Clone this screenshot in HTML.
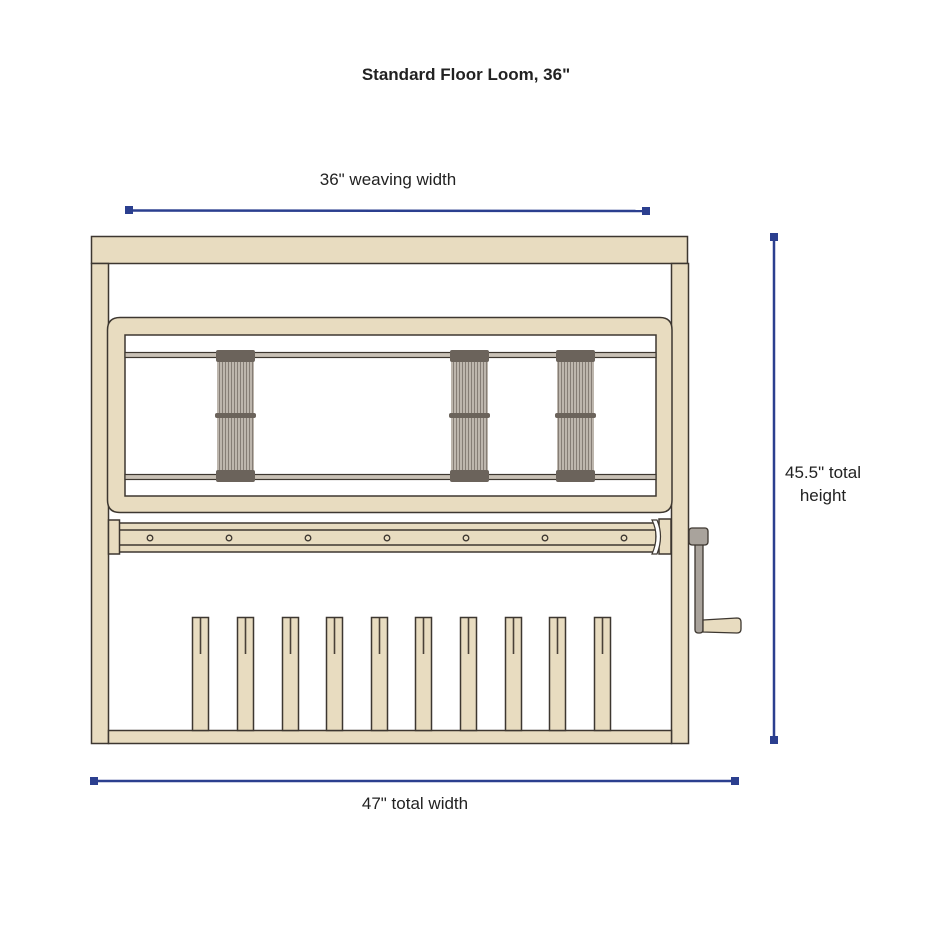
<!DOCTYPE html>
<html><head><meta charset="utf-8"><style>
html,body{margin:0;padding:0;background:#fff;}
svg{display:block;}
text{font-family:"Liberation Sans",sans-serif;fill:#222;}
</style></head><body>
<svg width="932" height="932" viewBox="0 0 932 932" xmlns="http://www.w3.org/2000/svg">
<defs>
<pattern id="hd" width="3" height="10" patternUnits="userSpaceOnUse">
<rect width="3" height="10" fill="#bdb6ad"/><rect width="1" height="10" fill="#857d75"/>
</pattern>
</defs>
<text x="466" y="80" font-size="17" font-weight="bold" text-anchor="middle">Standard Floor Loom, 36"</text>
<text x="388" y="185" font-size="17" text-anchor="middle">36" weaving width</text>
<text x="415" y="809" font-size="17" text-anchor="middle">47" total width</text>
<text x="823" y="478" font-size="17" text-anchor="middle">45.5" total</text>
<text x="823" y="501" font-size="17" text-anchor="middle">height</text>

<g fill="#2b3f8f" stroke="#2b3f8f">
<line x1="129" y1="210.5" x2="646" y2="211" stroke-width="2.5"/>
<rect x="125" y="206" width="8" height="8" stroke="none"/>
<rect x="642" y="207" width="8" height="8" stroke="none"/>
<line x1="774" y1="237" x2="774" y2="740" stroke-width="2.5"/>
<rect x="770" y="233" width="8" height="8" stroke="none"/>
<rect x="770" y="736" width="8" height="8" stroke="none"/>
<line x1="94" y1="781" x2="735" y2="781" stroke-width="2.5"/>
<rect x="90" y="777" width="8" height="8" stroke="none"/>
<rect x="731" y="777" width="8" height="8" stroke="none"/>
</g>

<g fill="#e8dcc0" stroke="#3d3730" stroke-width="1.5">
<rect x="91.5" y="236.5" width="596" height="27"/>
<rect x="91.5" y="263.5" width="17" height="480"/>
<rect x="671.5" y="263.5" width="17" height="480"/>
<rect x="108.5" y="730.5" width="563" height="13"/>
<path d="M107.5,330 Q107.5,317.5 120,317.5 L660,317.5 Q672,317.5 672,330 L672,500 Q672,512.5 660,512.5 L120,512.5 Q107.5,512.5 107.5,500 Z"/>
<rect x="125" y="335" width="531" height="161" fill="#fff"/>
<rect x="118" y="523" width="538" height="29"/>
<line x1="120" y1="530" x2="655" y2="530"/>
<line x1="120" y1="545" x2="655" y2="545"/>
<rect x="108.5" y="520" width="11" height="34"/>
<rect x="659" y="519" width="12" height="35"/>
<path d="M652,520 Q660,536 652,554 L657,554 Q664,536 657,520 Z" fill="#fff" stroke-width="1.2"/>
</g>
<g fill="none" stroke="#3d3730" stroke-width="1.3">
<circle cx="150" cy="538" r="2.8"/><circle cx="229" cy="538" r="2.8"/><circle cx="308" cy="538" r="2.8"/>
<circle cx="387" cy="538" r="2.8"/><circle cx="466" cy="538" r="2.8"/><circle cx="545" cy="538" r="2.8"/><circle cx="624" cy="538" r="2.8"/>
</g>
<g fill="#c9c1b6" stroke="#3d3730" stroke-width="1.2">
<rect x="125" y="352.5" width="531" height="5"/>
<rect x="125" y="474.5" width="531" height="5"/>
</g>
<g>
<rect x="217" y="352" width="37" height="128" fill="url(#hd)"/>
<rect x="451" y="352" width="37" height="128" fill="url(#hd)"/>
<rect x="557" y="352" width="37" height="128" fill="url(#hd)"/>
<g fill="#6b635b">
<rect x="216" y="350" width="39" height="12" rx="2"/><rect x="216" y="470" width="39" height="12" rx="2"/><rect x="215" y="413" width="41" height="5" rx="2"/>
<rect x="450" y="350" width="39" height="12" rx="2"/><rect x="450" y="470" width="39" height="12" rx="2"/><rect x="449" y="413" width="41" height="5" rx="2"/>
<rect x="556" y="350" width="39" height="12" rx="2"/><rect x="556" y="470" width="39" height="12" rx="2"/><rect x="555" y="413" width="41" height="5" rx="2"/>
</g>
</g>
<g fill="#a9a39c" stroke="#3d3730" stroke-width="1.3">
<rect x="695" y="535" width="8" height="98" rx="3"/>
<rect x="689" y="528" width="19" height="17" rx="3"/>
</g>
<path d="M703,620 L737,618 Q741,618 741,622 L741,629 Q741,633 737,633 L703,632 Z" fill="#e8dcc0" stroke="#3d3730" stroke-width="1.3"/>
<g fill="#e8dcc0" stroke="#3d3730" stroke-width="1.5">
<rect x="192.5" y="617.5" width="16" height="113"/>
<rect x="237.5" y="617.5" width="16" height="113"/>
<rect x="282.5" y="617.5" width="16" height="113"/>
<rect x="326.5" y="617.5" width="16" height="113"/>
<rect x="371.5" y="617.5" width="16" height="113"/>
<rect x="415.5" y="617.5" width="16" height="113"/>
<rect x="460.5" y="617.5" width="16" height="113"/>
<rect x="505.5" y="617.5" width="16" height="113"/>
<rect x="549.5" y="617.5" width="16" height="113"/>
<rect x="594.5" y="617.5" width="16" height="113"/>
</g>
<g stroke="#4a4138" stroke-width="1.6">
<line x1="200.5" y1="618" x2="200.5" y2="654"/><line x1="245.5" y1="618" x2="245.5" y2="654"/>
<line x1="290.5" y1="618" x2="290.5" y2="654"/><line x1="334.5" y1="618" x2="334.5" y2="654"/>
<line x1="379.5" y1="618" x2="379.5" y2="654"/><line x1="423.5" y1="618" x2="423.5" y2="654"/>
<line x1="468.5" y1="618" x2="468.5" y2="654"/><line x1="513.5" y1="618" x2="513.5" y2="654"/>
<line x1="557.5" y1="618" x2="557.5" y2="654"/><line x1="602.5" y1="618" x2="602.5" y2="654"/>
</g>
</svg>
</body></html>
